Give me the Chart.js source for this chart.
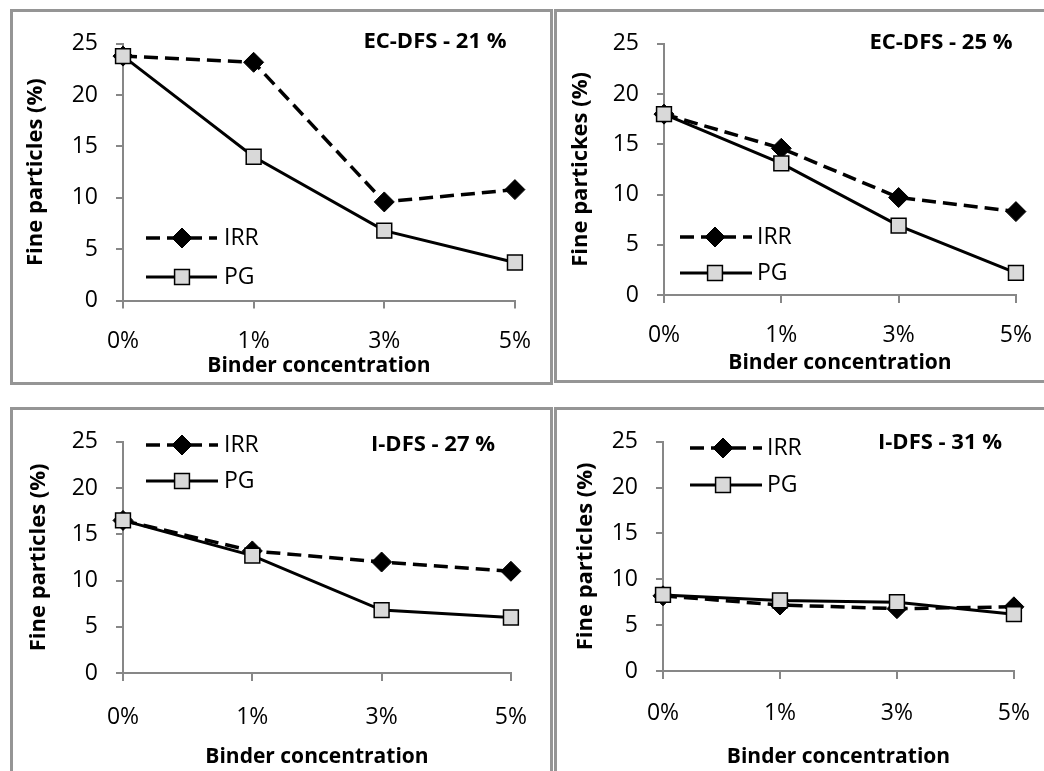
<!DOCTYPE html>
<html>
<head>
<meta charset="utf-8">
<script src="https://cdn.jsdelivr.net/npm/chart.js@4.4.1/dist/chart.umd.min.js"></script>
<style>
  body { margin: 0; background: #fff; width: 1044px; height: 771px; overflow: hidden; position: relative; }
  .panel { position: absolute; box-sizing: border-box; border: 3px solid #959595; overflow: hidden; background: #fff; }
  .panel canvas { position: absolute; left: 0; top: 0; }
</style>
</head>
<body>
<script>
// categories and series
var categories = ['0%', '1%', '3%', '5%'];
var seriesNames = ['IRR', 'PG'];
var yTickStep = 5;
var yMax = 25;

var irr21 = [23.8, 23.2, 9.6, 10.8];
var pg21 = [23.8, 14.0, 6.8, 3.7];
var irr25 = [18.0, 14.6, 9.7, 8.3];
var pg25 = [18.0, 13.1, 6.9, 2.2];
var irr27 = [16.5, 13.2, 12.0, 11.0];
var pg27 = [16.5, 12.7, 6.8, 6.0];
var irr31 = [8.2, 7.2, 6.8, 7.0];
var pg31 = [8.3, 7.7, 7.5, 6.2];

var FONT = '"Open Sans", "Noto Sans", sans-serif';
var AXIS = '#878787';

// draws the inner legend and the panel label
var notesPlugin = {
    id: 'notes',
    afterDatasetsDraw: function (chart, args, o) {
        var ctx = chart.ctx;
        ctx.save();
        ctx.fillStyle = '#000';
        ctx.font = 'bold 22px ' + FONT;
        ctx.textAlign = 'center';
        ctx.textBaseline = 'middle';
        ctx.fillText(o.label, o.lx, o.ly);

        chart.data.datasets.forEach(function (ds, i) {
            var y = o.rows[i];
            ctx.strokeStyle = '#000';
            ctx.lineWidth = ds.borderWidth;
            ctx.setLineDash(ds.borderDash || []);
            ctx.beginPath();
            ctx.moveTo(o.x0, y);
            ctx.lineTo(o.x1, y);
            ctx.stroke();
            ctx.setLineDash([]);
            ctx.fillStyle = ds.pointBackgroundColor;
            ctx.lineWidth = ds.pointBorderWidth;
            ctx.beginPath();
            var r = ds.pointRadius;
            if (ds.pointStyle === 'rectRot') {
                ctx.moveTo(o.mx - r, y);
                ctx.lineTo(o.mx, y - r);
                ctx.lineTo(o.mx + r, y);
                ctx.lineTo(o.mx, y + r);
                ctx.closePath();
            } else {
                var s = r * Math.SQRT1_2;
                ctx.rect(o.mx - s, y - s, 2 * s, 2 * s);
            }
            ctx.fill();
            ctx.stroke();
            ctx.fillStyle = '#000';
            ctx.font = '23px ' + FONT;
            ctx.textAlign = 'left';
            ctx.fillText(ds.label, o.tx, y);
        });
        ctx.restore();
    }
};

var panels = [
    { box: [10, 9, 543, 376], area: { l: 123, t: 25, r: 517, b: 300.5 }, irr: irr21, pg: pg21,
      label: 'EC-DFS - 21 %', lx: 435, ly: 42, x0: 146, x1: 217, mx: 182, tx: 224, rows: [238, 277],
      yTitle: 'Fine particles (%)', yTitlePad: 10, xTitlePad: 3, xPad: 19 },
    { box: [554, 9, 500, 374], area: { l: 664, t: 27, r: 1020, b: 295 }, irr: irr25, pg: pg25,
      label: 'EC-DFS - 25 %', lx: 941, ly: 43, x0: 680, x1: 752, mx: 715, tx: 757, rows: [237, 273],
      yTitle: 'Fine partickes (%)', yTitlePad: 11, xTitlePad: 4, xPad: 19 },
    { box: [10, 407, 543, 380], area: { l: 123, t: 432, r: 519, b: 673 }, irr: irr27, pg: pg27,
      label: 'I-DFS - 27 %', lx: 433, ly: 445, x0: 146, x1: 218, mx: 182, tx: 224, rows: [445, 481],
      yTitle: 'Fine particles (%)', yTitlePad: 13, xTitlePad: 14, xPad: 23 },
    { box: [554, 407, 500, 380], area: { l: 663, t: 429, r: 1020, b: 671 }, irr: irr31, pg: pg31,
      label: 'I-DFS - 31 %', lx: 940, ly: 443, x0: 690, x1: 762, mx: 723, tx: 767, rows: [448, 485],
      yTitle: 'Fine particles (%)', yTitlePad: 16, xTitlePad: 14, xPad: 21 }
];

function makePanel(p) {
    var div = document.createElement('div');
    div.className = 'panel';
    div.style.left = p.box[0] + 'px';
    div.style.top = p.box[1] + 'px';
    div.style.width = p.box[2] + 'px';
    div.style.height = p.box[3] + 'px';
    document.body.appendChild(div);

    var ox = p.box[0] + 3, oy = p.box[1] + 3;
    var cw = p.box[2] - 6, ch = p.box[3] - 6;
    var canvas = document.createElement('canvas');
    canvas.width = cw;
    canvas.height = ch;
    canvas.style.width = cw + 'px';
    canvas.style.height = ch + 'px';
    div.appendChild(canvas);

    var yW = p.area.l - ox;
    var xH = oy + ch - p.area.b;

    new Chart(canvas, {
        type: 'line',
        data: {
            labels: categories,
            datasets: [{
                label: seriesNames[0],
                data: p.irr,
                borderColor: '#000',
                borderWidth: 3.5,
                borderDash: [14, 7],
                pointStyle: 'rectRot',
                pointRadius: 10,
                pointBackgroundColor: '#000',
                pointBorderColor: '#000',
                pointBorderWidth: 1,
                clip: false,
                order: 1
            }, {
                label: seriesNames[1],
                data: p.pg,
                borderColor: '#000',
                borderWidth: 3,
                pointStyle: 'rect',
                pointRadius: 10.5,
                pointBackgroundColor: '#d9d9d9',
                pointBorderColor: '#000',
                pointBorderWidth: 1.5,
                clip: false,
                order: 0
            }]
        },
        options: {
            responsive: false,
            maintainAspectRatio: false,
            animation: false,
            events: [],
            layout: { padding: { top: p.area.t - oy, left: 0, right: ox + cw - p.area.r, bottom: 0 } },
            plugins: {
                legend: { display: false },
                tooltip: { enabled: false },
                notes: {
                    label: p.label, lx: p.lx - ox, ly: p.ly - oy,
                    x0: p.x0 - ox, x1: p.x1 - ox, mx: p.mx - ox, tx: p.tx - ox,
                    rows: [p.rows[0] - oy, p.rows[1] - oy]
                }
            },
            scales: {
                x: {
                    offset: false,
                    grid: { drawOnChartArea: false, drawTicks: true, tickLength: 8, color: AXIS, lineWidth: 2 },
                    border: { color: AXIS, width: 2 },
                    ticks: { color: '#000', font: { family: FONT, size: 23 }, padding: p.xPad, maxRotation: 0, autoSkip: false },
                    title: { display: true, text: 'Binder concentration', color: '#000',
                             font: { family: FONT, size: 21, weight: 'bold' }, padding: { top: 0, bottom: p.xTitlePad } },
                    afterFit: function (s) { s.height = xH; }
                },
                y: {
                    min: 0,
                    max: yMax,
                    grid: { drawOnChartArea: false, drawTicks: true, tickLength: 7, color: AXIS, lineWidth: 2 },
                    border: { color: AXIS, width: 2 },
                    ticks: { stepSize: yTickStep, color: '#000', font: { family: FONT, size: 23 }, padding: 18 },
                    title: { display: true, text: p.yTitle, color: '#000',
                             font: { family: FONT, size: 22, weight: 'bold' }, padding: { top: p.yTitlePad, bottom: 0 } },
                    afterFit: function (s) { s.width = yW; }
                }
            }
        },
        plugins: [notesPlugin]
    });
}

panels.forEach(makePanel);
</script>
</body>
</html>
